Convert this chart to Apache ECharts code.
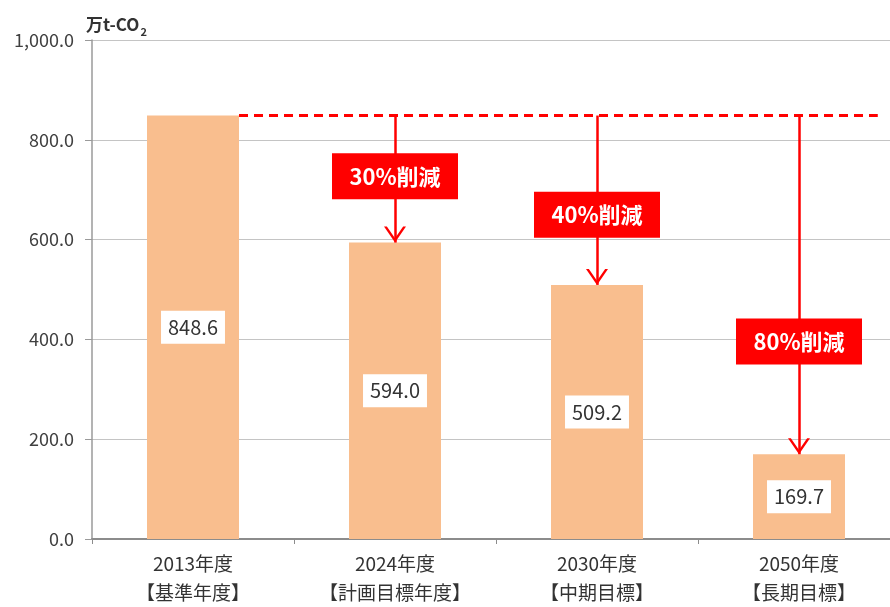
<!DOCTYPE html>
<html><head><meta charset="utf-8">
<script src="https://cdn.jsdelivr.net/npm/echarts@6/dist/echarts.min.js"></script>
<style>html,body{margin:0;padding:0;background:#fff;overflow:hidden}#c{width:910px;height:607px}</style>
</head><body><div id="c"></div>
<script>
const categories = ['2013年度\n【基準年度】', '2024年度\n【計画目標年度】', '2030年度\n【中期目標】', '2050年度\n【長期目標】'];
const emissions = [848.6, 594.0, 509.2, 169.7];
const reductionLabels = ['', '30%削減', '40%削減', '80%削減'];
const reductionLabelY = [null, 727, 650, 396];
const yTicks = [0, 200, 400, 600, 800, 1000];

const FONT = '"Noto Sans CJK JP", "Noto Sans", sans-serif';
const RED = '#ff0000';
const base = emissions[0];
const barW = 92;
const bandW = 202;

const chart = echarts.init(document.getElementById('c'));
const arrows = [];
const boxes = [];
for (let i = 1; i < emissions.length; i++) {
  arrows.push([{coord: [i, base]}, {coord: [i, emissions[i]]}]);
  boxes.push({coord: [i, reductionLabelY[i]], value: reductionLabels[i]});
}
chart.setOption({
  animation: false,
  textStyle: {fontFamily: FONT},
  title: {
    left: 81, top: 11,
    text: '{a|万t-CO}{s|2}',
    textStyle: {rich: {
      a: {fontFamily: FONT, fontSize: 17, color: '#333', fontWeight: 'bold', verticalAlign: 'bottom'},
      s: {fontFamily: FONT, fontSize: 11, color: '#333', verticalAlign: 'bottom', padding: [0, 0, -4, 1]}
    }}
  },
  grid: {left: 92, top: 40, width: bandW * 4, height: 500, containLabel: false},
  xAxis: [{
    type: 'category', data: categories,
    axisLine: {lineStyle: {color: '#8c8c8c', width: 2}},
    axisTick: {show: true, length: 5, lineStyle: {color: '#8c8c8c'}},
    axisLabel: {fontFamily: FONT, fontSize: 19, color: '#333', lineHeight: 29, margin: 10}
  }, {
    type: 'value', min: -0.5, max: 3.5, show: false
  }],
  yAxis: {
    type: 'value', min: yTicks[0], max: yTicks[yTicks.length - 1], interval: 200,
    axisLine: {show: true, onZero: false, lineStyle: {color: '#9a9a9a', width: 1.5}},
    axisTick: {show: true, length: 7, lineStyle: {color: '#9a9a9a'}},
    splitLine: {lineStyle: {color: '#c4c4c4', width: 1.2}},
    axisLabel: {fontFamily: FONT, fontSize: 18, color: '#404040', margin: 18,
      formatter: v => v.toLocaleString('en-US', {minimumFractionDigits: 1, maximumFractionDigits: 1})}
  },
  series: [{
    type: 'bar', data: emissions, barWidth: barW,
    itemStyle: {color: '#F9BE8E'},
    label: {show: true, position: 'inside', fontFamily: FONT, fontSize: 20, color: '#333',
      backgroundColor: '#fff', padding: [8, 7, 5, 7],
      formatter: p => p.value.toFixed(1)},
    markLine: {
      silent: true, z: 4,
      symbol: ['none', 'path://M10,-12 L10.01,-12 L10,-11.99 Z M10,0 L20,12 L17.4,12 L10,3.2 L2.6,12 L0,12 Z'],
      symbolSize: [22, 32],
      label: {show: false},
      lineStyle: {color: RED, width: 2.5, type: 'solid'},
      data: arrows
    }
  }, {
    type: 'line', xAxisIndex: 1, z: 3,
    data: [[0 + barW / 2 / bandW, base], [3.39, base]],
    symbol: 'none',
    lineStyle: {color: RED, width: 3, type: [9, 6]}
  }, {
    type: 'scatter', data: [], z: 10,
    markPoint: {
      silent: true, z: 10,
      symbol: 'rect', symbolSize: [126, 46],
      itemStyle: {color: RED},
      label: {show: true, formatter: p => p.value, color: '#fff', fontSize: 22, fontWeight: 'bold', fontFamily: FONT},
      data: boxes
    }
  }]
});
</script></body></html>
